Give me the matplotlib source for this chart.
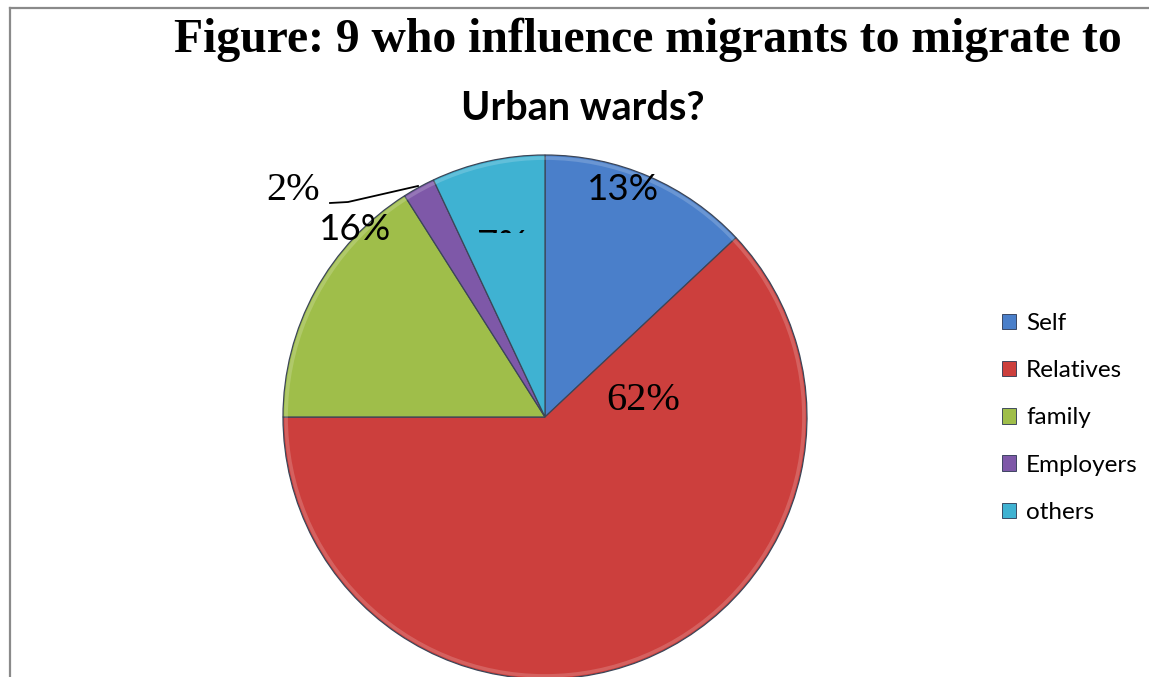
import numpy as np
import matplotlib
matplotlib.use("Agg")
import matplotlib.pyplot as plt
from matplotlib.patches import Patch, Rectangle
from matplotlib.lines import Line2D

# who influenced the move to urban wards (percent of migrants)
categories = ["Self", "Relatives", "family", "Employers", "others"]
shares = [13, 62, 16, 2, 7]
colors = ["#4a7fca", "#cc3f3d", "#9fbe4a", "#7e58a8", "#3fb2d2"]

W, H = 1149, 677
fig = plt.figure(figsize=(W / 100, H / 100), dpi=100)

# thin grey frame, only top and left edges are visible
fig.add_artist(Line2D([10 / W, 1], [1 - 8 / H, 1 - 8 / H], color="#8a8a8a", lw=1.6))
fig.add_artist(Line2D([10 / W, 10 / W], [0, 1 - 8 / H], color="#8a8a8a", lw=1.6))

fig.text(648 / W, 1 - 40 / H, "Figure: 9 who influence migrants to migrate to",
         family="Liberation Serif", weight="bold", fontsize=34.3,
         ha="center", va="center")
fig.text(583 / W, 1 - 109 / H, "Urban wards?", family="Lato", weight="bold",
         fontsize=28.5, ha="center", va="center")

# pie centred at (545, 417) px with a 262 px radius
cx, cy, r = 545, 417, 262
ax = fig.add_axes([(cx - r) / W, (H - cy - r) / H, 2 * r / W, 2 * r / H])
wedges, _ = ax.pie(shares, colors=colors, startangle=90, counterclock=False,
                   radius=1.0,
                   wedgeprops=dict(edgecolor="#3c4658", linewidth=0.9))
ax.set_xlim(-1, 1)
ax.set_ylim(-1, 1)
ax.set_aspect("equal")
ax.axis("off")

# soft highlight just inside the rim
ax.add_patch(plt.Circle((0, 0), 0.988, fill=False, edgecolor="white",
                        linewidth=2.5, alpha=0.18))


def px(x, y):
    return (x - cx) / r, (cy - y) / r


# percentage labels
sans = dict(family="Lato", fontsize=26.5, ha="center", va="center")
serif = dict(family="Liberation Serif", fontsize=29, ha="center", va="center")
ax.text(*px(623, 190), f"{shares[0]}%", **sans)
ax.text(*px(643, 401), f"{shares[1]}%", **serif)
ax.text(*px(355, 229), f"{shares[2]}%", **sans)
ax.text(*px(293, 191), f"{shares[3]}%", **serif)
ax.plot(*zip(px(330, 203), px(348, 202), px(418, 186)), color="black", lw=1.3)

# the "others" label sits under the top edge of its slice; only a sliver shows
lab = ax.text(*px(502, 246), f"{shares[4]}%", **sans)
clip = Rectangle(((476 - cx) / r, (cy - 233) / r), 52 / r, 9 / r,
                 transform=ax.transData, fill=False, visible=False)
ax.add_patch(clip)
lab.set_clip_on(True)
lab.set_clip_path(clip)

handles = [Patch(facecolor=c, edgecolor="#2a3550", linewidth=0.6) for c in colors]
fig.legend(handles, categories, loc="upper left",
           bbox_to_anchor=(980 / W, 1 - 291 / H), frameon=False,
           prop=dict(family="Lato", size=17.5), handlelength=0.6,
           handleheight=0.6, handletextpad=0.4, labelspacing=1.08)

fig.savefig("out.png", dpi=100, facecolor="white")
